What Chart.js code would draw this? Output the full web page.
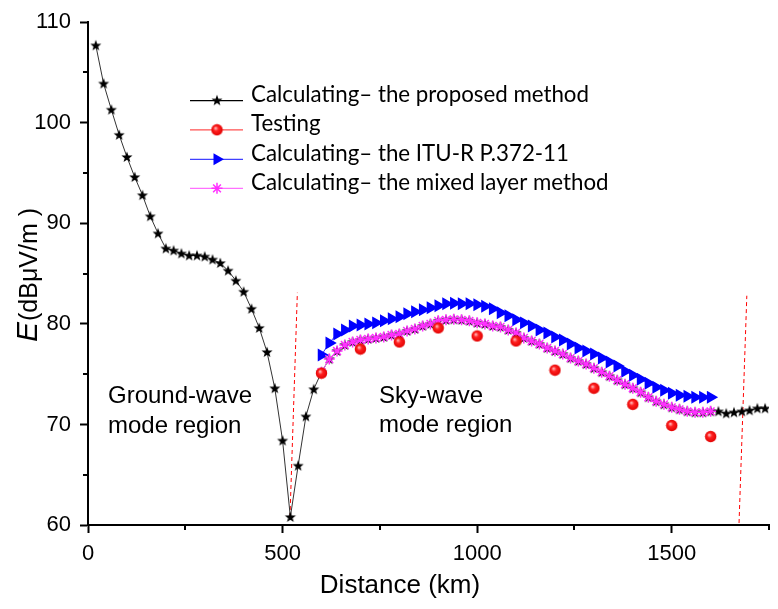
<!DOCTYPE html>
<html><head><meta charset="utf-8">
<script src="https://cdn.jsdelivr.net/npm/chart.js@4.4.0/dist/chart.umd.min.js"></script>
<style>html,body{margin:0;padding:0;background:#fff;}#wrap{width:778px;height:609px;position:relative;}</style>
</head><body><div id="wrap"><canvas id="c" width="778" height="609"></canvas></div>
<script>
// ---------------- data ----------------
const distProposed = [20,40,60,80,100,120,140,160,180,200,220,240,260,280,300,320,340,360,380,400,
  420,440,460,480,500,520,540,560,580,600,620,640,660,680,700,720,740,760,780,800,
  820,840,860,880,900,920,940,960,980,1000,1020,1040,1060,1080,1100,1120,1140,1160,1180,1200,
  1220,1240,1260,1280,1300,1320,1340,1360,1380,1400,1420,1440,1460,1480,1500,1520,1540,1560,1580,1600,
  1620,1640,1660,1680,1700,1720,1740];
const eProposed = [107.7,103.9,101.3,98.8,96.6,94.6,92.8,90.7,89.0,87.5,87.3,87.0,86.8,86.8,86.7,86.4,86.05,85.3,84.3,83.2,
  81.5,79.6,77.2,73.6,68.4,60.8,65.9,70.8,73.5,75.2,76.5,77.3,77.9,78.2,78.4,78.5,78.6,78.7,78.9,79.0,
  79.3,79.5,79.8,80.0,80.3,80.4,80.45,80.4,80.3,80.1,80.0,79.8,79.7,79.4,79.1,78.6,78.3,78.0,77.6,77.3,
  77.0,76.6,76.3,76.0,75.6,75.2,74.8,74.4,74.0,73.6,73.2,72.7,72.3,72.0,71.7,71.5,71.3,71.2,71.2,71.3,
  71.3,71.1,71.2,71.3,71.4,71.6,71.6];

const distTesting = [600,700,800,900,1000,1100,1200,1300,1400,1500,1600];
const eTesting = [75.1,77.5,78.2,79.6,78.8,78.3,75.4,73.6,72.0,69.9,68.8];

const distSky = [600,620,640,660,680,700,720,740,760,780,800,820,840,860,880,900,920,940,960,980,
  1000,1020,1040,1060,1080,1100,1120,1140,1160,1180,1200,1220,1240,1260,1280,1300,1320,1340,1360,1380,
  1400,1420,1440,1460,1480,1500,1520,1540,1560,1580,1600];
const eITU = [76.9,78.1,79.0,79.4,79.8,79.9,80.0,80.1,80.3,80.5,80.7,81.0,81.2,81.4,81.6,81.8,82.0,82.05,82.0,82.0,
  81.9,81.75,81.5,81.1,80.8,80.4,80.1,79.8,79.4,79.1,78.7,78.4,78.0,77.6,77.3,77.0,76.6,76.2,75.8,75.3,
  74.9,74.5,74.1,73.7,73.4,73.1,72.9,72.8,72.7,72.7,72.7];
const eMixed = [75.2,76.5,77.3,77.9,78.2,78.4,78.5,78.6,78.7,78.9,79.0,79.3,79.5,79.8,80.0,80.3,80.4,80.45,80.4,80.3,
  80.1,80.0,79.8,79.7,79.4,79.1,78.6,78.3,78.0,77.6,77.3,77.0,76.6,76.3,76.0,75.6,75.2,74.8,74.4,74.0,
  73.6,73.2,72.7,72.3,72.0,71.7,71.5,71.3,71.2,71.2,71.3];

const boundaryLeftX = [519,538], boundaryLeftY = [60.8,83.1];
const boundaryRightX = [1673,1693], boundaryRightY = [60.2,82.8];

const xMajorTicks = [0,500,1000,1500];
const xMinorTicks = [250,750,1250,1750];
const yMajorTicks = [60,70,80,90,100,110];
const yMinorTicks = [65,75,85,95,105];

const legendLabels = ['Calculating\u2013 the proposed method','Testing','Calculating\u2013 the ITU-R P.372-11','Calculating\u2013 the mixed layer method'];
const regionLabels = [['Ground-wave','mode region'],['Sky-wave','mode region']];

// ---------------- marker images ----------------
function starImg(){
  const c=document.createElement('canvas'); c.width=14; c.height=14;
  const g=c.getContext('2d'); g.fillStyle='#000'; g.beginPath();
  for(let i=0;i<10;i++){const r=i%2?2.4:5.8; const a=-Math.PI/2+i*Math.PI/5; g.lineTo(7+r*Math.cos(a),7.4+r*Math.sin(a));}
  g.closePath(); g.fill(); return c;
}
function sphereImg(){
  const c=document.createElement('canvas'); c.width=13; c.height=13;
  const g=c.getContext('2d');
  const gr=g.createRadialGradient(5,4.8,0.5,6.5,6.5,6);
  gr.addColorStop(0,'#ffb0b0'); gr.addColorStop(0.35,'#ff2020'); gr.addColorStop(1,'#e00000');
  g.fillStyle=gr; g.beginPath(); g.arc(6.5,6.5,5.7,0,Math.PI*2); g.fill(); return c;
}
const STAR=starImg(), SPHERE=sphereImg();
const pts=(xs,ys)=>xs.map((x,i)=>({x:x,y:ys[i]}));

// ---------------- plugin: axes extras, legend, texts ----------------
const extras={
  id:'extras',
  afterDraw(chart){
    const ctx=chart.ctx, xs=chart.scales.x, ys=chart.scales.y, a=chart.chartArea;
    ctx.save();
    ctx.strokeStyle='#000'; ctx.lineWidth=2;
    xMinorTicks.forEach(v=>{const p=Math.round(xs.getPixelForValue(v)); ctx.beginPath(); ctx.moveTo(p,a.bottom); ctx.lineTo(p,a.bottom+5); ctx.stroke();});
    yMinorTicks.forEach(v=>{const p=Math.round(ys.getPixelForValue(v)); ctx.beginPath(); ctx.moveTo(a.left,p); ctx.lineTo(a.left-5,p); ctx.stroke();});
    ctx.fillStyle='#000'; ctx.font='24px "Liberation Sans", Arial, sans-serif'; ctx.textAlign='left'; ctx.textBaseline='alphabetic';
    ctx.fillText(regionLabels[0][0],108,403); ctx.fillText(regionLabels[0][1],108,433);
    ctx.fillText(regionLabels[1][0],379,403); ctx.fillText(regionLabels[1][1],379,432);
    ctx.font='26px "Liberation Sans", Arial, sans-serif'; ctx.textAlign='center';
    ctx.fillText('Distance (km)',400,593);
    ctx.save(); ctx.translate(37,342); ctx.rotate(-Math.PI/2); ctx.textAlign='left';
    ctx.font='italic 30px "Liberation Sans", Arial, sans-serif'; ctx.fillText('E',0,0);
    const w=ctx.measureText('E').width;
    ctx.font='25px "Liberation Sans", Arial, sans-serif'; ctx.fillText('(dB\u03bcV/m )',w+1,0);
    ctx.restore();
    const rows=[100.7,129.8,159.3,188.3];
    const lineCol=['#000','#ff5050','#4040ff','#ff70ff'];
    ctx.font='24px Lato, "Open Sans", sans-serif';
    const fs=24*338/ctx.measureText(legendLabels[0]).width;
    rows.forEach((y,i)=>{
      ctx.strokeStyle=lineCol[i]; ctx.lineWidth=1.2; ctx.beginPath(); ctx.moveTo(190,y); ctx.lineTo(243,y); ctx.stroke();
      if(i===0) ctx.drawImage(STAR,210,y-7.4);
      else if(i===1) ctx.drawImage(SPHERE,210.5,y-6.5);
      else if(i===2){ctx.fillStyle='#0000ff'; Chart.helpers.drawPoint(ctx,{pointStyle:'triangle',radius:7,rotation:90,borderWidth:0},217,y);}
      else {ctx.strokeStyle='#ff30ff'; ctx.lineWidth=1.5; Chart.helpers.drawPoint(ctx,{pointStyle:'star',radius:5.5,rotation:0,borderWidth:1.5},217,y);}
      ctx.fillStyle='#000'; ctx.font=fs.toFixed(2)+'px Lato, "Open Sans", sans-serif'; ctx.textAlign='left';
      ctx.fillText(legendLabels[i],251,y+1.5);
    });
    ctx.restore();
  }
};

new Chart(document.getElementById('c'),{
  type:'scatter',
  data:{datasets:[
    {label:'Testing',data:pts(distTesting,eTesting),showLine:false,pointStyle:SPHERE,order:1},
    {label:'Calculating– the mixed layer method',data:pts(distSky,eMixed),showLine:true,borderColor:'#ff60ff',borderWidth:1,
      pointStyle:'star',pointRadius:5.5,pointBorderColor:'#ff30ff',pointBorderWidth:1.5,pointBackgroundColor:'#ff30ff',order:2},
    {label:'Calculating– the ITU-R P.372-11',data:pts(distSky,eITU),showLine:true,borderColor:'#3030ff',borderWidth:1,
      pointStyle:'triangle',pointRotation:90,pointRadius:7.5,pointBackgroundColor:'#0000ff',pointBorderColor:'#0000ff',pointBorderWidth:0,order:3},
    {label:'Calculating– the proposed method',data:pts(distProposed,eProposed),showLine:true,borderColor:'#333',borderWidth:1,
      pointStyle:STAR,order:4},
    {label:'b1',data:pts(boundaryLeftX,boundaryLeftY),showLine:true,borderColor:'#ff0000',borderWidth:1,borderDash:[4,3],pointRadius:0,order:5},
    {label:'b2',data:pts(boundaryRightX,boundaryRightY),showLine:true,borderColor:'#ff0000',borderWidth:1,borderDash:[4,3],pointRadius:0,order:5}
  ]},
  options:{
    responsive:false,animation:false,devicePixelRatio:1,
    layout:{padding:{left:0,right:9,top:21,bottom:0}},
    plugins:{legend:{display:false},tooltip:{enabled:false}},
    elements:{line:{tension:0}},
    scales:{
      x:{type:'linear',min:0,max:1750,
        afterBuildTicks:s=>{s.ticks=xMajorTicks.map(v=>({value:v}));},
        afterFit:s=>{s.height=84;},
        ticks:{autoSkip:false,maxRotation:0,padding:8,color:'#000',callback:v=>String(v),font:{family:'"Liberation Sans", Arial, sans-serif',size:22}},
        grid:{drawOnChartArea:false,drawTicks:true,tickLength:8,tickWidth:2,tickColor:'#000'},
        border:{display:true,color:'#000',width:2}},
      y:{type:'linear',min:60,max:110,
        afterBuildTicks:s=>{s.ticks=yMajorTicks.map(v=>({value:v}));},
        afterFit:s=>{s.width=88;},
        ticks:{autoSkip:false,padding:9,color:'#000',callback:v=>String(v),font:{family:'"Liberation Sans", Arial, sans-serif',size:22}},
        grid:{drawOnChartArea:false,drawTicks:true,tickLength:8,tickWidth:2,tickColor:'#000'},
        border:{display:true,color:'#000',width:2}}
    }
  },
  plugins:[extras]
});
</script></body></html>
